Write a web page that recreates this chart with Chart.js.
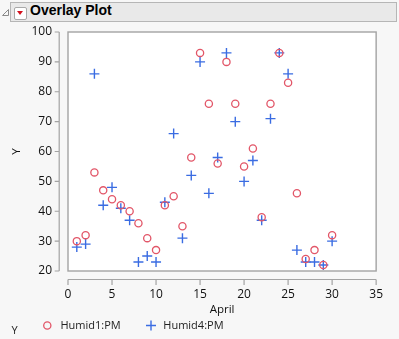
<!DOCTYPE html>
<html>
<head>
<meta charset="utf-8">
<script src="https://cdn.jsdelivr.net/npm/chart.js@4/dist/chart.umd.min.js"></script>
<style>
  html, body { margin: 0; padding: 0; background: #f7f7f7; }
  body { width: 399px; height: 339px; position: relative; overflow: hidden; }
  #plot { position: absolute; left: 0; top: 0; }
  .hdr { position: absolute; left: 10px; top: 2px; width: 385px; height: 18px;
         background: #e9e9e9; border: 1px solid #b6b6b6; }
  .disc { position: absolute; left: 1px; top: 8px; }
  .btn { position: absolute; left: 14px; top: 7px; width: 13px; height: 13px; box-sizing: border-box;
         background: #fff; border: 1px solid #a9a9a9; border-radius: 2px; }
  .btn::after { content: ""; position: absolute; left: 2px; top: 3px; width: 0; height: 0;
         border-left: 3.5px solid transparent; border-right: 3.5px solid transparent;
         border-top: 4.5px solid #d3101c; }
  .title { position: absolute; left: 30px; top: 2px; line-height: 20px;
           font: bold 14px "Liberation Sans", Arial, sans-serif; color: #000; }
</style>
</head>
<body>
<canvas id="plot" width="399" height="339"></canvas>
<div class="hdr"></div>
<svg class="disc" width="9" height="9" viewBox="0 0 9 9"><path d="M7.5 1.5 L7.5 7.5 L1.5 7.5 Z" fill="none" stroke="#8a8a8a" stroke-width="1"/></svg>
<div class="btn"></div>
<div class="title">Overlay Plot</div>
<script>
// April day numbers and the two afternoon humidity series
const days = [1, 2, 3, 4, 5, 6, 7, 8, 9, 10, 11, 12, 13, 14, 15, 16, 17, 18, 19, 20, 21, 22, 23, 24, 25, 26, 27, 28, 29, 30];
const humid1PM = [30, 32, 53, 47, 44, 42, 40, 36, 31, 27, 42, 45, 35, 58, 93, 76, 56, 90, 76, 55, 61, 38, 76, 93, 83, 46, 24, 27, 22, 32];
const humid4PM = [28, 29, 86, 42, 48, 41, 37, 23, 25, 23, 43, 66, 31, 52, 90, 46, 58, 93, 70, 50, 57, 37, 71, 93, 86, 27, 23, 23, 22, 30];
const xTicks = [0, 5, 10, 15, 20, 25, 30, 35];
const yTicks = [20, 30, 40, 50, 60, 70, 80, 90, 100];
const seriesNames = ['Humid1:PM', 'Humid4:PM'];

const RED = 'rgb(226, 86, 104)';
const BLUE = 'rgb(58, 108, 226)';
const AXIS = '#a3a3a3';
const FONT = '"Open Sans", "Noto Sans", sans-serif';

const toPoints = vals => days.map((d, i) => ({ x: d, y: vals[i] }));

// white plot background, frame, offset axis lines with tick marks, legend
const framePlugin = {
  id: 'frame',
  beforeDatasetsDraw(chart) {
    const { ctx, chartArea: a } = chart;
    ctx.save();
    ctx.fillStyle = '#ffffff';
    ctx.fillRect(a.left, a.top, a.right - a.left, a.bottom - a.top);
    ctx.restore();
  },
  afterDatasetsDraw(chart) {
    const { ctx, chartArea: a, scales } = chart;
    ctx.save();
    ctx.strokeStyle = AXIS;
    ctx.lineWidth = 1.4;
    ctx.strokeRect(a.left, a.top, a.right - a.left, a.bottom - a.top);

    // y axis line left of the frame
    ctx.lineWidth = 1.2;
    const ax = a.left - 8.8;
    ctx.beginPath();
    ctx.moveTo(ax, a.top);
    ctx.lineTo(ax, a.bottom);
    yTicks.forEach(v => {
      const py = scales.y.getPixelForValue(v);
      ctx.moveTo(ax, py);
      ctx.lineTo(ax - 4.5, py);
    });
    // x axis line below the frame
    const ay = a.bottom + 8.5;
    ctx.moveTo(a.left, ay);
    ctx.lineTo(a.right, ay);
    xTicks.forEach(v => {
      const px = scales.x.getPixelForValue(v);
      ctx.moveTo(px, ay);
      ctx.lineTo(px, ay + 5.5);
    });
    ctx.stroke();

    // legend row
    ctx.fillStyle = '#222';
    ctx.font = '11px ' + FONT;
    ctx.textBaseline = 'middle';
    ctx.textAlign = 'left';
    ctx.fillText('Y', 11.5, 330.5);

    ctx.lineWidth = 1.3;
    ctx.strokeStyle = RED;
    ctx.beginPath();
    ctx.arc(47.3, 325.5, 3.6, 0, Math.PI * 2);
    ctx.stroke();
    ctx.fillStyle = '#222';
    ctx.fillText(chart.data.datasets[0].label, 60.5, 326);

    ctx.strokeStyle = BLUE;
    ctx.lineWidth = 1.4;
    ctx.beginPath();
    ctx.moveTo(146, 325.5); ctx.lineTo(156, 325.5);
    ctx.moveTo(151, 320.5); ctx.lineTo(151, 330.5);
    ctx.stroke();
    ctx.fillText(chart.data.datasets[1].label, 163.3, 326);
    ctx.restore();
  }
};

new Chart(document.getElementById('plot'), {
  type: 'scatter',
  data: {
    datasets: [
      {
        label: seriesNames[0],
        data: toPoints(humid1PM),
        pointStyle: 'circle',
        pointRadius: 3.6,
        backgroundColor: 'rgba(0,0,0,0)',
        borderColor: RED,
        pointBorderWidth: 1.3,
        clip: false
      },
      {
        label: seriesNames[1],
        data: toPoints(humid4PM),
        pointStyle: 'cross',
        pointRadius: 5,
        backgroundColor: BLUE,
        borderColor: BLUE,
        pointBorderWidth: 1.4,
        clip: false
      }
    ]
  },
  options: {
    responsive: false,
    animation: false,
    devicePixelRatio: 1,
    layout: { padding: { left: 0, top: 32, right: 10, bottom: 22 } },
    plugins: { legend: { display: false }, tooltip: { enabled: false } },
    scales: {
      x: {
        type: 'linear',
        min: 0, max: 35,
        afterBuildTicks: s => { s.ticks = xTicks.map(v => ({ value: v })); },
        afterFit: s => { s.height = 339 - 22 - 271; },
        grid: { display: false, drawTicks: false },
        border: { display: false },
        ticks: { padding: 16, color: '#111', font: { family: FONT, size: 12 } },
        title: { display: true, text: 'April', color: '#111',
                 font: { family: FONT, size: 11.5 }, padding: { top: 0, bottom: 0 } }
      },
      y: {
        type: 'linear',
        min: 20, max: 100,
        afterBuildTicks: s => { s.ticks = yTicks.map(v => ({ value: v })); },
        afterFit: s => { s.width = 68; },
        grid: { display: false, drawTicks: false },
        border: { display: false },
        ticks: { padding: 16, color: '#111', font: { family: FONT, size: 12 } },
        title: { display: true, text: 'Y', color: '#111',
                 font: { family: FONT, size: 11.5 }, padding: { top: 10, bottom: 0 } }
      }
    }
  },
  plugins: [framePlugin]
});
</script>
</body>
</html>
